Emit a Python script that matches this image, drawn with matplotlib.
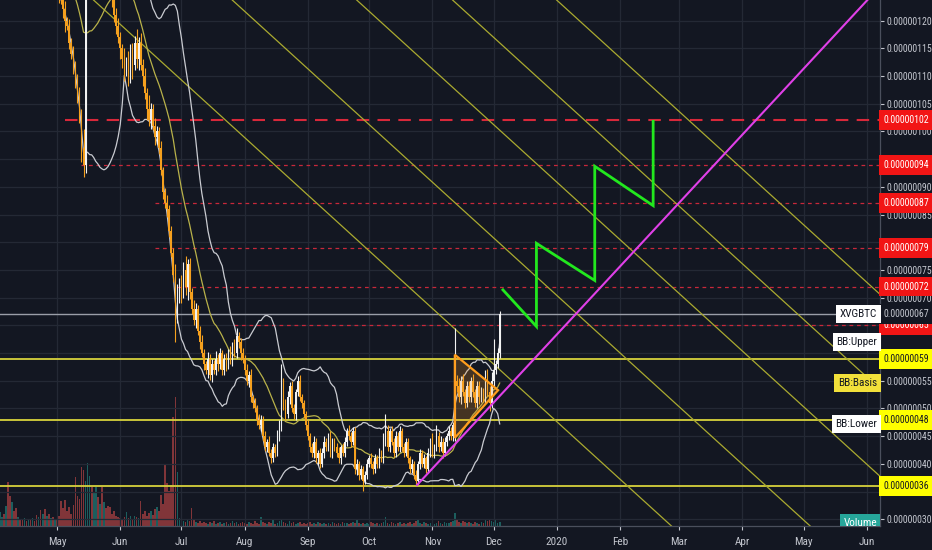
import numpy as np
import pandas as pd
import matplotlib
matplotlib.use("Agg")
import matplotlib.pyplot as plt
from matplotlib.patches import Polygon
from matplotlib import font_manager

# pick a narrow face for the price scale if one is installed
installed = {f.name for f in font_manager.fontManager.ttflist}
face, fsize = 'Liberation Sans', 6.4
for cand in ['Liberation Sans Narrow', 'Roboto Condensed', 'Open Sans Condensed']:
    if cand in installed:
        face, fsize = cand, 7.1
        break
plt.rcParams['font.family'] = [face, 'DejaVu Sans']

# XVG/BTC daily candles, prices in satoshi (1e-8 BTC), first candle 2019-04-03
first_day = "2019-04-03"
close = [141, 143, 139, 142, 140, 137, 140, 138, 136, 137,
         135, 134, 136, 133, 135, 132, 134, 131, 130, 132,
         130, 131, 129, 130, 128, 129, 127, 128, 126, 125,
         124, 122, 120, 119, 116, 114, 112, 109, 106, 103,
         97, 94, 126, 131, 134, 130, 135, 138, 136, 139,
         137, 138, 135, 132, 127, 124, 121, 119, 117, 115,
         113, 111, 112, 110, 114, 112, 116, 113, 116, 112,
         110, 107, 104, 102, 104, 101, 99, 100, 97, 93,
         89, 87, 86, 82, 78, 74, 67, 70, 72, 71,
         75, 72, 76, 71, 68, 66, 68, 64, 62, 60,
         58, 57, 59, 56, 58, 57, 59, 58, 60, 57,
         59, 58, 60, 59, 61, 60, 63, 62, 60, 59,
         57, 55, 56, 52, 51, 50, 48, 47, 48, 45,
         43, 44, 42, 41, 43, 42, 45, 47, 54, 51,
         49, 52, 54, 50, 49, 53, 55, 52, 51, 49,
         47, 45, 43, 42, 44, 41, 42, 40, 42, 44,
         43, 45, 42, 44, 43, 42, 41, 43, 42, 44,
         46, 45, 44, 46, 39, 40, 38, 39, 37, 38,
         40, 41, 40, 39, 41, 40, 42, 41, 44, 46,
         43, 46, 44, 42, 45, 43, 46, 43, 42, 44,
         41, 39, 40, 38, 37, 40, 42, 40, 41, 39,
         42, 44, 42, 43, 45, 43, 44, 42, 44, 45,
         46, 45, 47, 55, 54, 52, 55, 53, 51, 54,
         52, 55, 53, 51, 54, 52, 53, 52, 56, 53,
         51, 55, 57, 58, 60, 67]
upper_wick = [2.0, 1.5, 3.0, 1.0, 2.5, 1.2, 2.0, 1.8, 1.0, 2.2,
              1.5, 2.0, 1.0, 1.8, 1.2, 2.5, 1.0, 1.5, 2.0, 1.2,
              1.8, 1.0, 2.2, 1.5, 1.0, 2.0, 1.3, 1.7, 2.1, 1.5,
              1.6, 0.8, 1.5, 0.6, 1.2, 0.9, 1.4, 0.7, 1.3, 2.0,
              1.0, 3.5, 5.0, 2.5, 3.0, 1.5, 2.0, 3.5, 1.5, 2.0,
              2.5, 1.5, 1.0, 2.0, 1.5, 1.0, 0.8, 1.2, 1.5, 1.0,
              0.8, 2.0, 1.5, 2.5, 1.8, 2.0, 1.2, 2.5, 1.0, 1.8,
              1.0, 1.5, 0.8, 2.5, 1.2, 0.9, 1.5, 1.0, 0.8, 1.2,
              0.6, 0.8, 1.5, 0.7, 0.9, 1.0, 2.0, 2.5, 1.5, 2.0,
              1.5, 2.5, 1.0, 1.2, 0.8, 1.5, 1.0, 0.7, 0.9, 1.2,
              0.8, 0.6, 1.2, 0.9, 1.0, 0.7, 1.3, 0.8, 1.0, 0.6,
              0.9, 1.0, 0.8, 1.2, 1.0, 1.5, 1.6, 0.8, 0.7, 1.0,
              0.6, 1.0, 0.8, 1.2, 0.5, 0.9, 0.7, 1.0, 0.8, 0.6,
              0.9, 0.5, 1.0, 0.7, 0.8, 0.6, 1.2, 1.0, 4.0, 1.5,
              0.8, 1.2, 0.7, 1.0, 0.9, 0.6, 0.8, 1.0, 0.7, 0.5,
              0.6, 0.9, 0.5, 0.8, 1.0, 0.7, 0.6, 0.9, 0.8, 1.0,
              0.6, 0.5, 0.9, 0.7, 0.6, 0.8, 1.0, 0.5, 0.7, 0.9,
              0.5, 1.0, 0.8, 0.6, 0.7, 0.9, 0.5, 0.8, 0.6, 0.7,
              0.8, 0.6, 0.9, 0.5, 0.7, 0.6, 0.9, 0.5, 1.5, 3.0,
              1.0, 0.5, 0.8, 0.6, 1.0, 0.7, 0.9, 0.5, 0.8, 0.6,
              0.7, 0.5, 0.8, 0.6, 0.9, 0.5, 0.7, 0.6, 0.8, 0.5,
              0.9, 0.7, 1.5, 0.6, 2.0, 0.8, 1.0, 0.7, 0.9, 0.6,
              0.8, 0.7, 0.5, 9.6, 1.0, 1.5, 0.8, 1.2, 0.6, 0.9,
              1.0, 0.7, 1.2, 0.6, 0.9, 1.0, 0.8, 0.7, 0.9, 1.2,
              1.0, 1.5, 5.5, 0.8, 1.0, 0.5]
lower_wick = [1.5, 2.0, 1.0, 2.5, 1.2, 1.8, 1.0, 2.0, 1.5, 1.0,
              2.0, 1.0, 1.5, 1.2, 2.2, 1.0, 1.8, 1.5, 1.0, 2.0,
              1.0, 1.5, 2.0, 1.2, 1.8, 1.0, 1.5, 1.2, 1.0, 1.8,
              1.0, 1.5, 2.0, 0.8, 1.2, 1.0, 1.6, 1.2, 0.8, 1.5,
              2.5, 2.3, 1.5, 2.0, 3.0, 2.0, 1.5, 2.5, 2.0, 1.5,
              2.0, 1.5, 2.5, 1.0, 2.0, 1.5, 1.2, 1.5, 1.0, 2.0,
              1.5, 2.0, 1.0, 1.8, 1.2, 2.5, 1.0, 1.5, 2.0, 1.0,
              1.8, 1.2, 2.0, 1.0, 1.5, 0.8, 1.5, 1.2, 1.0, 0.9,
              1.2, 0.8, 1.5, 1.0, 0.7, 1.2, 5.0, 1.5, 1.0, 2.0,
              1.0, 1.5, 2.5, 1.2, 0.9, 1.0, 1.5, 0.8, 1.2, 0.7,
              1.0, 0.8, 1.5, 0.9, 1.2, 0.7, 1.0, 1.3, 0.8, 1.0,
              0.9, 1.2, 0.8, 1.0, 1.3, 0.7, 0.9, 1.0, 1.2, 0.8,
              1.0, 0.7, 1.2, 0.8, 1.0, 0.6, 0.9, 0.7, 1.0, 0.8,
              0.7, 0.9, 0.6, 0.9, 0.7, 0.8, 0.6, 0.9, 1.0, 1.2,
              1.0, 0.8, 1.1, 0.7, 0.9, 1.0, 0.8, 0.6, 0.9, 0.7,
              0.8, 0.6, 0.9, 0.7, 1.0, 0.8, 1.2, 0.7, 0.6, 0.9,
              0.7, 0.6, 0.8, 0.9, 0.6, 0.7, 0.8, 1.0, 0.6, 0.7,
              0.8, 0.7, 0.9, 0.6, 0.8, 1.0, 0.9, 0.8, 1.8, 0.7,
              0.8, 0.6, 0.7, 0.9, 0.6, 0.8, 0.7, 0.6, 0.9, 0.8,
              0.7, 0.9, 0.6, 0.8, 0.7, 0.6, 0.9, 0.7, 0.8, 0.6,
              0.9, 0.7, 0.6, 0.8, 0.6, 0.7, 0.9, 0.6, 0.8, 0.7,
              0.6, 0.8, 0.7, 0.9, 0.6, 0.8, 0.7, 0.9, 0.6, 0.8,
              0.7, 0.6, 0.8, 2.8, 1.0, 0.9, 1.1, 0.8, 1.0, 0.7,
              0.9, 0.8, 1.0, 0.7, 0.9, 1.1, 0.8, 0.9, 1.0, 0.8,
              1.4, 0.9, 1.0, 0.8, 0.7, 0.9]
volume = [14, 9, 12, 20, 44, 30, 24, 15, 18, 9,
          7, 6, 8, 5, 7, 6, 8, 5, 11, 9,
          16, 12, 17, 10, 12, 8, 9, 7, 6, 10,
          25, 18, 26, 15, 19, 12, 21, 49, 30, 27,
          59, 56, 45, 63, 50, 39, 33, 39, 29, 22,
          39, 24, 18, 20, 19, 12, 15, 10, 9, 8,
          7, 9, 14, 8, 10, 7, 10, 9, 8, 25,
          12, 15, 10, 13, 15, 11, 17, 19, 15, 31,
          22, 61, 43, 35, 41, 109, 129, 54, 8, 6,
          5, 4, 6, 5, 18, 7, 4, 3, 5, 3,
          4, 3, 2, 4, 3, 5, 2, 3, 4, 2,
          3, 4, 2, 3, 5, 3, 4, 2, 3, 4,
          3, 2, 4, 3, 2, 5, 3, 2, 9, 4,
          3, 2, 4, 3, 7, 2, 3, 5, 6, 4,
          3, 2, 5, 3, 4, 2, 3, 4, 2, 3,
          2, 3, 4, 2, 3, 2, 4, 3, 2, 3,
          2, 3, 2, 4, 3, 2, 3, 2, 4, 3,
          3, 2, 3, 4, 3, 6, 3, 2, 3, 2,
          3, 2, 4, 3, 2, 3, 2, 3, 4, 9,
          3, 2, 4, 3, 2, 3, 4, 2, 3, 2,
          3, 4, 2, 3, 5, 6, 3, 2, 4, 3,
          2, 3, 4, 2, 3, 5, 3, 2, 4, 3,
          3, 4, 5, 13, 6, 4, 3, 5, 4, 3,
          4, 3, 2, 4, 3, 2, 4, 3, 6, 5,
          7, 5, 4, 6, 3, 4]

# drawn levels (satoshi) and the day each ray starts
red_levels = [102, 94, 87, 79, 72, 65]
red_from = ["2019-05-05", "2019-05-13", "2019-06-18", "2019-06-18", "2019-06-29", "2019-07-27"]
yellow_levels = [59, 48, 36]
# scale labels that sit under a level tag
hidden_ticks = [35, 65, 80, 95]
# descending parallel lines: date where each one is at 124 sat, slope sat/day
fan_top = ["2019-05-18", "2019-07-25", "2019-09-24", "2019-11-10", "2019-12-31"]
fan_slope = -0.335
# rising support: two anchor points
support = [("2019-10-24 12:00", 36.2), ("2020-03-12", 91.5)]
# projected zigzag
zz_dates = ["2019-12-05 14:00", "2019-12-22", "2019-12-22", "2020-01-19 14:00",
            "2020-01-19 14:00", "2020-02-17 05:00", "2020-02-17 05:00"]
zz_price = [71.4, 64.8, 79.8, 73.1, 93.7, 86.6, 101.8]
# triangle pattern
tri_dates = ["2019-11-12", "2019-12-03 05:00", "2019-11-12"]
tri_price = [59.7, 53.3, 44.7]

month_starts = ["2019-05-01", "2019-06-01", "2019-07-01", "2019-08-01", "2019-09-01",
                "2019-10-01", "2019-11-01", "2019-12-01", "2020-01-01", "2020-02-01",
                "2020-03-01", "2020-04-01", "2020-05-01", "2020-06-01"]
month_names = ["May", "Jun", "Jul", "Aug", "Sep", "Oct", "Nov", "Dec",
               "2020", "Feb", "Mar", "Apr", "May", "Jun"]

base = pd.Timestamp("2019-05-01")
def dnum(s):
    return (pd.Timestamp(s) - base) / pd.Timedelta(days=1)

close = np.array(close, float)
days = np.arange(len(close)) + dnum(first_day)
opn = np.r_[close[0], close[:-1]]
high = np.maximum(opn, close) + np.array(upper_wick)
low = np.minimum(opn, close) - np.array(lower_wick)
up = close >= opn

s = pd.Series(close)
bb_mid = s.rolling(20).mean()
bb_dev = s.rolling(20).std(ddof=0)
bb_up = bb_mid + 2 * bb_dev
bb_lo = bb_mid - 2 * bb_dev

bg = '#131722'
txt = '#c3c6ce'
grid_c = '#242935'

fig = plt.figure(figsize=(9.32, 5.5), dpi=100, facecolor=bg)
rect = [0, 24 / 550, 880 / 932, 526 / 550]
axv = fig.add_axes(rect)
ax = fig.add_axes(rect)
ax.patch.set_visible(False)
axv.set_facecolor(bg)

xmin, xmax = -27.94, 403.4
ymin, ymax = 28.8, 123.7

# volume
vcol = np.where(up, '#26a69a', '#ef5350')
axv.bar(days, volume, width=0.8, color=vcol, alpha=0.5, linewidth=0)
axv.set_xlim(xmin, xmax)
axv.set_ylim(0, max(volume) * 4.08)
axv.axis('off')

ax.set_xlim(xmin, xmax)
ax.set_ylim(ymin, ymax)

# grid
ax.set_yticks(np.arange(30, 121, 5))
ax.set_xticks([dnum(m) for m in month_starts])
ax.set_xticklabels(month_names)
ax.grid(True, color=grid_c, lw=0.9, zorder=0)
ax.set_axisbelow(True)
ax.yaxis.tick_right()
ax.yaxis.set_major_formatter(plt.FuncFormatter(
    lambda v, p: '' if round(v) in hidden_ticks else f"{v / 1e8:.8f}"))
ax.tick_params(axis='y', colors=txt, labelsize=fsize, length=3, pad=1.5, width=0.8)
ax.tick_params(axis='x', colors=txt, labelsize=fsize + 1, length=3, pad=5, width=0.8)
for side in ['top', 'left']:
    ax.spines[side].set_visible(False)
for side in ['right', 'bottom']:
    ax.spines[side].set_color('#4a4f5c')
    ax.spines[side].set_linewidth(0.9)

# horizontal levels
for lv, d0 in zip(red_levels, red_from):
    if lv == red_levels[0]:
        ax.hlines(lv, dnum(d0), xmax, colors='#d8283a', lw=1.5, linestyles=(0, (6, 4)), zorder=2)
    else:
        ax.hlines(lv, dnum(d0), xmax, colors='#c8283a', lw=0.9, linestyles=(0, (3, 3)), zorder=2)
for lv in yellow_levels:
    ax.axhline(lv, color='#d6d23c', lw=1.3, zorder=2)
ax.axhline(close[-1], color='#9a9ea8', lw=1.0, zorder=2)

# descending parallel lines
for t in fan_top:
    d0 = dnum(t)
    d1 = d0 + (20 - 124) / fan_slope
    ax.plot([d0, d1], [124, 20], color='#aaaa30', lw=0.9, zorder=2)

# bollinger bands
ax.plot(days, bb_up, color='#c9cbd1', lw=0.9, zorder=3)
ax.plot(days, bb_lo, color='#c9cbd1', lw=0.9, zorder=3)
ax.plot(days, bb_mid, color='#b9b24a', lw=0.9, zorder=3)

# candles
ccol = np.where(up, '#f2f2f2', '#f5a01e')
ax.vlines(days, low, high, colors=ccol, lw=0.8, zorder=4)
body_lo = np.minimum(opn, close)
body_h = np.maximum(np.abs(close - opn), 0.2)
ax.bar(days, body_h, bottom=body_lo, width=0.8, color=ccol, linewidth=0, zorder=4)

# triangle
tri = Polygon(list(zip([dnum(d) for d in tri_dates], tri_price)), closed=True,
              fc=(0.96, 0.6, 0.15, 0.22), ec='#ff9d1c', lw=1.6, zorder=5)
ax.add_patch(tri)

# support ray
(sa, pa), (sb, pb) = support
da, db = dnum(sa), dnum(sb)
k = (pb - pa) / (db - da)
ax.plot([da, da + (130 - pa) / k], [pa, 130], color='#e040e8', lw=1.5, zorder=5)

# projected path
ax.plot([dnum(d) for d in zz_dates], zz_price, color='#22e81e', lw=2.0, zorder=6,
        solid_joinstyle='miter')

# price scale tags
ytr = ax.get_yaxis_transform()
def tag(v, fc, tc):
    ax.text(1.004, v, f"{v / 1e8:.8f}", transform=ytr, ha='left', va='center',
            fontsize=fsize, color=tc, zorder=10, clip_on=False,
            bbox=dict(boxstyle='square,pad=0.5', fc=fc, ec='none'))
for lv in red_levels:
    tag(lv, '#f21515', 'white')
for lv in yellow_levels:
    tag(lv, '#ffff00', '#131722')
tag(close[-1], bg, txt)

def left_tag(v, label, fc, tc):
    ax.text(0.997, v, label, transform=ytr, ha='right', va='center', fontsize=fsize + 1,
            color=tc, zorder=10, bbox=dict(boxstyle='square,pad=0.35', fc=fc, ec='none'))
left_tag(close[-1], 'XVGBTC', 'white', '#131722')
left_tag(bb_up.iloc[-1], 'BB:Upper', 'white', '#131722')
left_tag(bb_mid.iloc[-1], 'BB:Basis', '#f2e03a', '#131722')
left_tag(bb_lo.iloc[-1], 'BB:Lower', 'white', '#131722')
ax.text(0.997, 0.006, 'Volume', transform=ax.transAxes, ha='right', va='center',
        fontsize=fsize + 1, color='white', zorder=10, clip_on=True,
        bbox=dict(boxstyle='square,pad=0.35', fc='#26a69a', ec='none'))

fig.savefig('out.png', dpi=100, facecolor=bg)
